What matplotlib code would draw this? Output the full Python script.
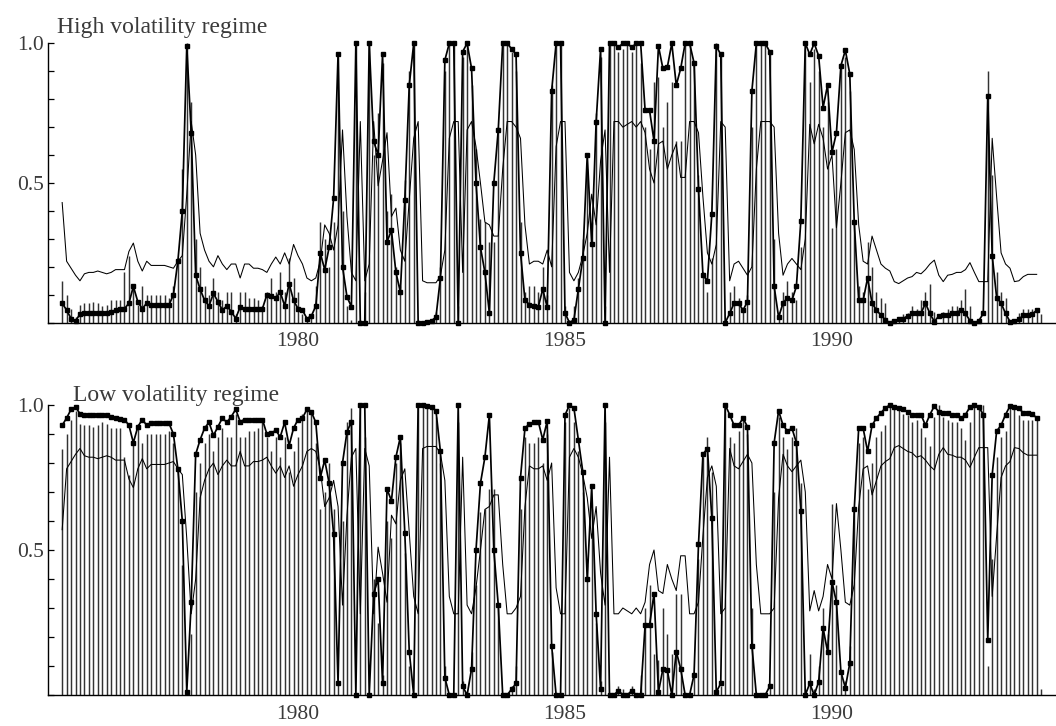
import numpy as np
import matplotlib
matplotlib.use("Agg")
import matplotlib.pyplot as plt
from matplotlib.ticker import MultipleLocator, FixedLocator

# ============================
#  DADOS (mensais, regime de alta volatilidade)
#  o regime de baixa volatilidade é o complemento (1 - p)
# ============================
start_year = 1975 + 7 / 12
year_ticks = [1980, 1985, 1990]
titles = ["High volatility regime", "Low volatility regime"]

# probabilidade suavizada (linha com quadrados)
smooth_high = [
    0.07, 0.045, 0.015, 0.007, 0.03, 0.033, 0.033, 0.033, 0.033, 0.033,
    0.035, 0.04, 0.045, 0.048, 0.05, 0.07, 0.13, 0.075, 0.05, 0.07,
    0.063, 0.063, 0.063, 0.063, 0.063, 0.10, 0.22, 0.40, 0.99, 0.68,
    0.17, 0.12, 0.08, 0.06, 0.105, 0.075, 0.045, 0.06, 0.04, 0.015,
    0.057, 0.05, 0.05, 0.05, 0.05, 0.05, 0.10, 0.097, 0.087, 0.11,
    0.06, 0.14, 0.08, 0.05, 0.045, 0.015, 0.024, 0.06, 0.25, 0.19,
    0.27, 0.445, 0.96, 0.2, 0.093, 0.057, 1.0, 0.0, 0.0, 1.0,
    0.65, 0.6, 0.96, 0.29, 0.33, 0.18, 0.11, 0.44, 0.85, 1.0,
    0.0, 0.0, 0.003, 0.007, 0.02, 0.16, 0.94, 1.0, 1.0, 0.0,
    0.97, 1.0, 0.91, 0.5, 0.27, 0.18, 0.035, 0.5, 0.69, 1.0,
    1.0, 0.98, 0.96, 0.25, 0.08, 0.065, 0.06, 0.057, 0.12, 0.055,
    0.83, 1.0, 1.0, 0.035, 0.0, 0.01, 0.12, 0.23, 0.6, 0.28,
    0.72, 0.98, 0.0, 1.0, 1.0, 0.985, 1.0, 1.0, 0.985, 1.0,
    1.0, 0.76, 0.76, 0.65, 0.99, 0.91, 0.915, 1.0, 0.85, 0.91,
    1.0, 1.0, 0.93, 0.48, 0.17, 0.15, 0.39, 0.99, 0.96, 0.0,
    0.033, 0.07, 0.07, 0.045, 0.075, 0.83, 1.0, 1.0, 1.0, 0.97,
    0.13, 0.02, 0.07, 0.09, 0.08, 0.13, 0.365, 1.0, 0.96, 1.0,
    0.955, 0.77, 0.85, 0.61, 0.68, 0.92, 0.975, 0.89, 0.36, 0.08,
    0.08, 0.16, 0.07, 0.045, 0.027, 0.01, 0.0, 0.007, 0.012, 0.015,
    0.024, 0.033, 0.033, 0.033, 0.07, 0.033, 0.004, 0.024, 0.027, 0.027,
    0.033, 0.036, 0.045, 0.033, 0.007, 0.0, 0.007, 0.033, 0.81, 0.24,
    0.09, 0.07, 0.033, 0.004, 0.007, 0.012, 0.027, 0.027, 0.03, 0.045,
]

# probabilidade filtrada (barras verticais)
filt_high = [
    0.15, 0.10, 0.05, 0.02, 0.065, 0.07, 0.07, 0.075, 0.07, 0.06,
    0.065, 0.08, 0.08, 0.08, 0.18, 0.24, 0.13, 0.065, 0.13, 0.10,
    0.10, 0.10, 0.10, 0.10, 0.09, 0.13, 0.22, 0.55, 1.0, 0.79,
    0.30, 0.20, 0.13, 0.10, 0.16, 0.11, 0.08, 0.11, 0.11, 0.03,
    0.11, 0.11, 0.09, 0.09, 0.08, 0.06, 0.11, 0.16, 0.11, 0.18,
    0.11, 0.23, 0.16, 0.11, 0.03, 0.01, 0.03, 0.13, 0.36, 0.30,
    0.20, 0.36, 0.95, 0.40, 0.06, 0.01, 1.0, 0.01, 0.11, 1.0,
    0.60, 0.75, 0.93, 0.40, 0.46, 0.20, 0.13, 0.51, 0.90, 1.0,
    0.01, 0.0, 0.0, 0.0, 0.04, 0.20, 0.90, 1.0, 1.0, 0.06,
    0.95, 1.0, 0.85, 0.62, 0.37, 0.36, 0.29, 0.29, 0.70, 1.0,
    1.0, 0.97, 0.90, 0.36, 0.11, 0.13, 0.13, 0.11, 0.20, 0.10,
    0.85, 1.0, 1.0, 0.06, 0.01, 0.06, 0.16, 0.30, 0.55, 0.36,
    0.75, 0.95, 0.06, 1.0, 1.0, 0.97, 0.98, 1.0, 0.97, 1.0,
    0.93, 0.70, 0.62, 0.86, 0.88, 0.70, 0.79, 0.86, 0.65, 0.65,
    1.0, 1.0, 0.93, 0.53, 0.18, 0.11, 0.23, 1.0, 0.97, 0.01,
    0.11, 0.13, 0.09, 0.04, 0.10, 0.70, 1.0, 1.0, 1.0, 0.97,
    0.30, 0.04, 0.11, 0.15, 0.11, 0.08, 0.27, 0.98, 0.86, 0.98,
    0.90, 0.70, 0.79, 0.34, 0.62, 0.93, 0.95, 0.83, 0.36, 0.13,
    0.11, 0.29, 0.20, 0.11, 0.09, 0.07, 0.0, 0.0, 0.01, 0.03,
    0.035, 0.06, 0.05, 0.08, 0.11, 0.14, 0.04, 0.0, 0.04, 0.05,
    0.06, 0.06, 0.08, 0.12, 0.06, 0.0, 0.0, 0.0, 0.90, 0.53,
    0.18, 0.11, 0.09, 0.0, 0.01, 0.035, 0.05, 0.05, 0.05, 0.05,
]

# probabilidade prevista (linha fina)
pred_high = [
    0.43, 0.22, 0.195, 0.17, 0.15, 0.175, 0.18, 0.18, 0.185, 0.18,
    0.175, 0.18, 0.19, 0.19, 0.19, 0.255, 0.285, 0.22, 0.185, 0.22,
    0.205, 0.205, 0.205, 0.205, 0.2, 0.195, 0.22, 0.24, 0.46, 0.72,
    0.6, 0.32, 0.26, 0.22, 0.2, 0.24, 0.21, 0.19, 0.21, 0.21,
    0.16, 0.21, 0.21, 0.195, 0.195, 0.19, 0.18, 0.21, 0.235, 0.21,
    0.25, 0.21, 0.28, 0.24, 0.21, 0.16, 0.15, 0.16, 0.22, 0.35,
    0.32, 0.26, 0.35, 0.69, 0.38, 0.18, 0.15, 0.72, 0.15, 0.21,
    0.72, 0.49, 0.58, 0.68, 0.38, 0.41, 0.26, 0.22, 0.44, 0.66,
    0.72, 0.15, 0.143, 0.143, 0.143, 0.167, 0.26, 0.66, 0.72, 0.72,
    0.18, 0.69, 0.72, 0.63, 0.5, 0.36, 0.35, 0.31, 0.31, 0.55,
    0.72, 0.72, 0.70, 0.66, 0.35, 0.21, 0.22, 0.22, 0.21, 0.26,
    0.2, 0.63, 0.72, 0.72, 0.18, 0.15, 0.18, 0.24, 0.32, 0.46,
    0.35, 0.58, 0.69, 0.18, 0.72, 0.72, 0.70, 0.71, 0.72, 0.70,
    0.72, 0.68, 0.55, 0.50, 0.64, 0.65, 0.55, 0.60, 0.64, 0.52,
    0.52, 0.72, 0.72, 0.68, 0.45, 0.25, 0.21, 0.28, 0.72, 0.70,
    0.15, 0.21, 0.22, 0.195, 0.17, 0.2, 0.55, 0.72, 0.72, 0.72,
    0.70, 0.32, 0.17, 0.21, 0.23, 0.21, 0.19, 0.30, 0.71, 0.64,
    0.71, 0.66, 0.55, 0.6, 0.34, 0.5, 0.68, 0.69, 0.62, 0.35,
    0.22, 0.21, 0.31, 0.26, 0.21, 0.195, 0.185, 0.147, 0.14, 0.15,
    0.16, 0.165, 0.18, 0.175, 0.19, 0.21, 0.224, 0.17, 0.147, 0.17,
    0.173, 0.18, 0.18, 0.19, 0.215, 0.18, 0.147, 0.147, 0.147, 0.66,
    0.45, 0.25, 0.21, 0.195, 0.147, 0.15, 0.165, 0.173, 0.173, 0.173,
]

# última barra isolada (sem linhas) em cada painel
last_bar = [0.03, 0.02]

# ============================
#  PREPARO
# ============================
n = len(smooth_high)
dates = start_year + np.arange(n) / 12
tail_date = start_year + n / 12

high = (np.array(smooth_high), np.array(filt_high), np.array(pred_high))
low = tuple(1 - a for a in high)

TXT = "#3a3a3a"
FONT = "Liberation Serif"
plt.rcParams["font.family"] = [FONT, "DejaVu Serif"]

fig = plt.figure(figsize=(10.56, 7.26), dpi=100)
left, width = 48 / 1056, 1008 / 1056
ax_hi = fig.add_axes([left, 1 - 322.7 / 726, width, 279.4 / 726])
ax_lo = fig.add_axes([left, 1 - 695 / 726, width, 290 / 726])

for ax, (s, f, p), tail in [(ax_hi, high, last_bar[0]), (ax_lo, low, last_bar[1])]:
    ax.vlines(dates, 0, f, color="#333333", lw=1.05)
    ax.vlines([tail_date], 0, [tail], color="#333333", lw=1.05)
    ax.plot(dates, p, color="black", lw=0.75)
    ax.plot(dates, s, color="black", lw=1.25, marker="s", ms=2.5,
            clip_on=False, zorder=4)

    ax.set_xlim(1975.318, 1994.195)
    ax.set_ylim(0, 1.0)
    for side in ["top", "right"]:
        ax.spines[side].set_visible(False)
    ax.spines["left"].set_linewidth(1.0)
    ax.spines["bottom"].set_linewidth(1.0)

    ax.yaxis.set_major_locator(FixedLocator([0.5, 1.0]))
    ax.yaxis.set_minor_locator(MultipleLocator(0.1))
    ax.set_yticklabels(["0.5", "1.0"])
    ax.tick_params(axis="y", which="both", direction="in", length=4,
                   width=0.9, pad=3, labelsize=15.5, labelcolor=TXT)
    ax.set_xticks(year_ticks)
    ax.set_xticklabels([str(y) for y in year_ticks])
    ax.tick_params(axis="x", length=0, pad=7, labelsize=15.5, labelcolor=TXT)

fig.text(57 / 1056, 1 - 33 / 726, titles[0], ha="left", va="baseline",
         fontsize=17, color=TXT)
fig.text(73 / 1056, 1 - 401 / 726, titles[1], ha="left", va="baseline",
         fontsize=17, color=TXT)

fig.savefig("out.png", dpi=100)
